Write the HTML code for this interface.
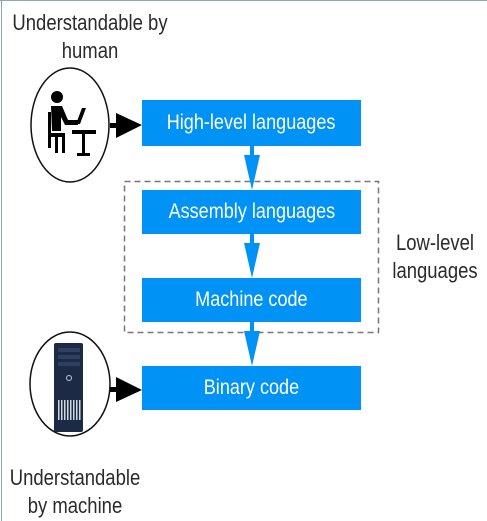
<!DOCTYPE html>
<html><head><style>
html,body{margin:0;padding:0;background:#fff;}
body{width:487px;height:521px;position:relative;overflow:hidden;font-family:"Liberation Sans",sans-serif;}
.t{position:absolute;color:#2b2b2b;font-size:22px;text-align:center;line-height:28px;transform:scaleX(0.84);transform-origin:center top;}
.b{position:absolute;left:142px;width:219px;background:#0093f5;color:#fff;font-size:21px;display:flex;align-items:center;justify-content:center;}
.b span{display:inline-block;transform:scaleX(0.86);white-space:nowrap;}
</style></head><body>
<div style="position:absolute;left:0;top:0;width:487px;height:1px;background:#8aa4b8"></div>
<div style="position:absolute;left:1px;top:0;width:1px;height:521px;background:#8aa4b8"></div>
<div class="t" style="left:-10px;top:9px;width:200px">Understandable by<br>human</div>
<div class="t" style="left:-10px;top:464px;width:170px">Understandable<br>by machine</div>
<div class="t" style="left:375px;top:229px;width:120px">Low-level<br>languages</div>
<div class="b" style="top:100px;height:46px"><span>High-level languages</span></div>
<div class="b" style="top:190px;height:44px"><span>Assembly languages</span></div>
<div class="b" style="top:278px;height:44px"><span>Machine code</span></div>
<div class="b" style="top:366px;height:44px"><span>Binary code</span></div>
<svg width="487" height="521" style="position:absolute;left:0;top:0">
<rect x="124.5" y="181.5" width="254" height="151" fill="none" stroke="#777" stroke-width="1.5" stroke-dasharray="6,4"/>
<g fill="#0093f5">
<rect x="250" y="146" width="4" height="20"/><polygon points="244,155 260,155 252,190"/>
<rect x="250" y="234" width="4" height="20"/><polygon points="244,243 260,243 252,278"/>
<rect x="250" y="322" width="4" height="20"/><polygon points="244,331 260,331 252,366"/>
</g>
<ellipse cx="70" cy="125" rx="39" ry="57" fill="#fff" stroke="#111" stroke-width="1.5"/>
<ellipse cx="70" cy="384" rx="40" ry="52" fill="#fff" stroke="#111" stroke-width="1.5"/>
<g fill="#000">
<rect x="110" y="123" width="8" height="5"/><polygon points="116,113 116,138 142,125"/>
<rect x="110" y="387" width="8" height="5"/><polygon points="116,377 116,402 142,390"/>
</g>
<g fill="#000">
<circle cx="57" cy="97" r="6"/>
<path d="M51,106 h11 l6,14 h10 v5 h-13 l-4,-8 v14 h-9 z"/>
<rect x="48" y="112" width="3" height="36"/>
<rect x="51" y="133" width="14" height="4"/>
<rect x="62" y="133" width="3" height="20"/>
<rect x="55" y="133" width="3" height="20"/>
<polygon points="82,108 86,108 80,124 76,124"/>
<rect x="72" y="130" width="24" height="4"/>
<rect x="82" y="134" width="3" height="20"/>
<rect x="77" y="153" width="13" height="3"/>
</g>
<rect x="54" y="343" width="29" height="89" rx="2" fill="#1d2a45"/>
<rect x="58" y="348" width="22" height="4" fill="#2e4060"/>
<rect x="58" y="355" width="22" height="4" fill="#2e4060"/>
<rect x="58" y="362" width="22" height="4" fill="#2e4060"/>
<circle cx="69" cy="378" r="2.5" fill="none" stroke="#bcd" stroke-width="1"/>
<g fill="#cfd8dc"><rect x="58" y="400" width="1.5" height="20"/><rect x="61" y="400" width="1.5" height="20"/><rect x="64" y="400" width="1.5" height="20"/><rect x="67" y="400" width="1.5" height="20"/><rect x="70" y="400" width="1.5" height="20"/><rect x="73" y="400" width="1.5" height="20"/><rect x="76" y="400" width="1.5" height="20"/><rect x="79" y="400" width="1.5" height="20"/></g>
</svg>
</body></html>
